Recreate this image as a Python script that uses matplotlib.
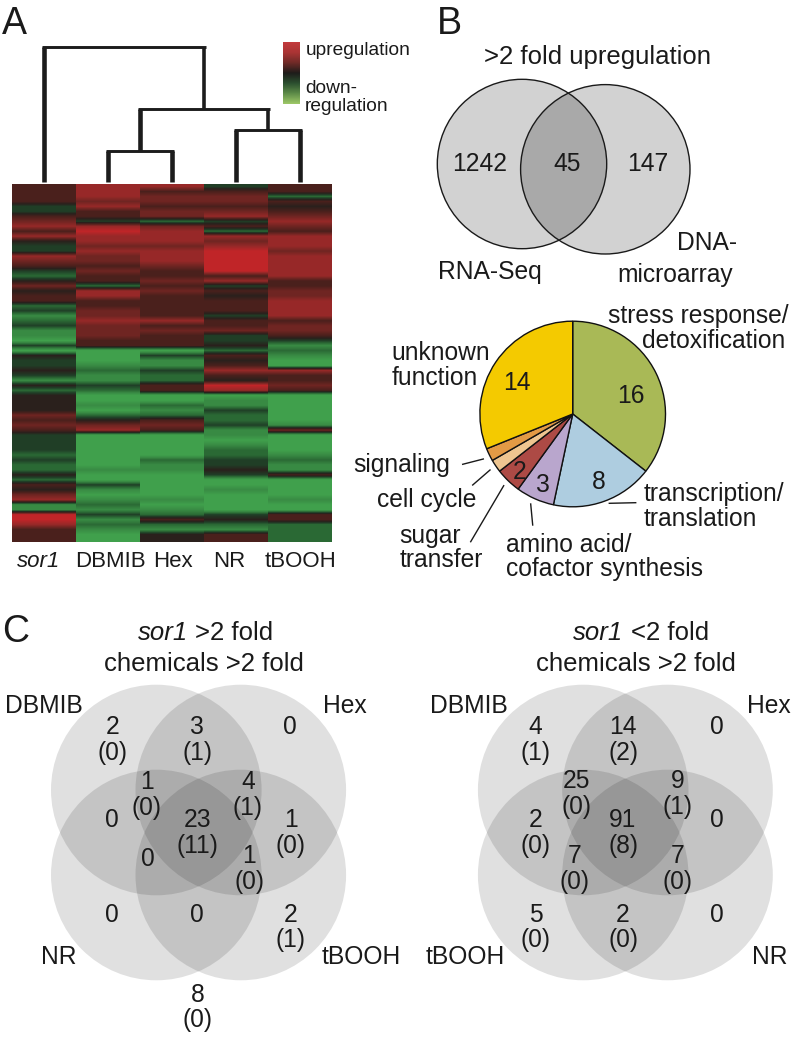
import matplotlib
matplotlib.use('Agg')
import matplotlib.pyplot as plt
from matplotlib.colors import LinearSegmentedColormap
from matplotlib.patches import Circle
import numpy as np

plt.rcParams['font.family'] = ['Liberation Sans', 'DejaVu Sans']

# Heatmap values, -4 bright green, 0 black, +4 bright red
sor1 = [1, 1, 1, 1, -1, -1, 1, 2, 3, 1, 3, 0, -1, -1, 3, 2, 1, -1, -2, 0, 2, 0, 1, 1,
        -2, -1, -3, -2, -1, -3, -3, -4, -1, -4, 0, -1, -1, 0, -1, -3, 0, -2, 0, 0, 0, 0, 2, 1,
        2, 1, -1, -1, -1, -1, -2, -1, -2, -2, 0, -2, 1, 0, 2, 3, -3, -3, 4, 4, 3, 1, 1, 1]
dbmib = [3, 3, 3, 2, 3, 1, 1, -1, 3, 4, 3, 3, 2, 3, 2, 2, 1, 2, 1, 1, -2, 3, 3, 1,
         1, 2, 2, 3, 2, 2, 2, 1, 1, -4, -4, -4, -3, -2, -3, -3, -1, -2, -4, -4, -3, -4, -2, 0,
         2, 3, -4, -4, -4, -4, -4, -4, -4, -3, -4, -4, -1, -3, -4, -3, -2, -3, -1, -3, -2, -3, -4, -4]
hexal = [3, 1, 2, 2, 1, 2, 2, -2, 2, 3, 3, 3, 2, 3, 3, 3, 2, 1, 1, 2, 1, 2, 1, 1,
         1, 1, 1, 3, 1, 2, 1, 1, 1, -4, -1, -3, -3, -1, -2, -2, 1, 1, -4, -4, -2, -3, -2, 1,
         2, 1, -4, -4, -4, -4, -4, -2, -3, -3, -4, -4, -4, -4, -4, -3, -4, -3, -2, 1, -2, -3, 0, 0]
nr = [-1, 1, 2, 2, 1, 2, 3, -1, 1, -2, 3, 2, 3, 4, 4, 4, 4, 4, 1, 3, -1, 1, 0, 1,
      1, 1, -1, 1, 1, 2, -1, -1, 0, -2, 1, 0, 1, 3, 1, 0, 4, 3, -4, -3, -3, -1, -2, -2,
      -1, -3, -3, -4, -3, -2, -2, -1, -1, 0, -1, -4, -4, -3, -4, -4, -4, -4, -1, 0, -2, -3, 1, 1]
tbooh = [1, 1, -2, 1, 0, 1, 2, 3, 2, 1, 3, 3, 3, 2, 3, 3, 3, 3, 3, 1, 1, 2, 2, 3,
         3, 3, 3, 1, 2, 2, 1, -1, -3, -2, -3, -4, -4, 3, 1, 1, 2, 1, -4, -4, -4, -4, -4, -4,
         -3, 2, -4, -4, -4, -4, -3, -2, -3, -3, 1, -4, -4, -4, -4, -3, -4, -4, 1, 1, -2, -2, -2, -2]
heat_columns = [sor1, dbmib, hexal, nr, tbooh]
heat_labels = ['DBMIB', 'Hex', 'NR', 'tBOOH']
heat_colors = ['#40a04c', '#398b44', '#2b6a35', '#203f27', '#2a201c',
               '#4a201c', '#6f2522', '#962928', '#c02528']
legend_colors = ['#c23a3c', '#a93434', '#6e2a27', '#1e1c1a', '#2b4f2f', '#5c8a47', '#9cc667']

# dendrogram merge heights above the heatmap
merge_heights = [31, 52, 73, 135]

# Venn B
venn_b_counts = ['1242', '45', '147']

# Pie
pie_values = [16, 8, 3, 2, 1, 1, 14]
pie_colors = ['#a9b956', '#aecde0', '#b9a6cd', '#ad4a45', '#eec590', '#e39a45', '#f4ca00']

# Venn C
c1_counts = ['2', '3', '0', '1', '4', '0', '23', '1', '0', '1', '0', '0', '2', '8']
c1_parens = ['(0)', '(1)', '', '(0)', '(1)', '', '(11)', '(0)', '', '(0)', '', '', '(1)', '(0)']
c2_counts = ['4', '14', '0', '25', '9', '2', '91', '0', '7', '7', '5', '2', '0']
c2_parens = ['(1)', '(2)', '', '(0)', '(1)', '(0)', '(8)', '', '(0)', '(0)', '(0)', '(0)', '']

W, H = 793, 1037
TC = '#1a1a1a'

fig = plt.figure(figsize=(W / 100, H / 100), dpi=100)
ax = fig.add_axes([0, 0, 1, 1])
ax.set_zorder(2)


def txt(x, y, s, size=17.7, ha='left', **kw):
    ax.text(x, y, s, fontsize=size, ha=ha, va='baseline', color=TC, **kw)


# A: heatmap, one image per column so the rows blend only up and down
heat_cmap = LinearSegmentedColormap.from_list('heat', heat_colors)
for i, col in enumerate(heat_columns):
    ax.imshow(np.array(col, dtype=float).reshape(-1, 1), cmap=heat_cmap, vmin=-4, vmax=4, aspect='auto',
              interpolation='bilinear', extent=(12 + 64 * i, 76 + 64 * i, 542, 184))
txt(17.3, 566.7, 'sor1', size=16, style='italic')
for lab, x in zip(heat_labels, [75, 153, 212.7, 265]):
    txt(x, 566.7, lab, size=16)

# dendrogram
base = 182
col_x = [44, 108, 172, 236, 300]
m1 = (col_x[1] + col_x[2]) / 2
m2 = (col_x[3] + col_x[4]) / 2
m3 = (m1 + m2) / 2
links = [(col_x[1], base, col_x[2], base, merge_heights[0]),
         (col_x[3], base, col_x[4], base, merge_heights[1]),
         (m1, base - merge_heights[0], m2, base - merge_heights[1], merge_heights[2]),
         (col_x[0], base, m3, base - merge_heights[2], merge_heights[3])]
for x0, y0, x1, y1, h in links:
    top = base - h
    ax.plot([x0, x0], [y0, top], color='#1c1c1c', lw=3.3, solid_capstyle='butt')
    ax.plot([x1, x1], [y1, top], color='#1c1c1c', lw=3.3 if y1 == base else 2.6, solid_capstyle='butt')
    ax.plot([x0 - 2, x1 + 2], [top, top], color='#1c1c1c', lw=2.1, solid_capstyle='butt')

# legend gradient
legend_cmap = LinearSegmentedColormap.from_list('leg', legend_colors)
ax.imshow(np.linspace(0, 1, 62).reshape(-1, 1), cmap=legend_cmap, aspect='auto',
          extent=(283.3, 300, 103.7, 41.7))
txt(306, 55, 'upregulation', size=13.8)
txt(305, 93.3, 'down-', size=13.8)
txt(305, 110.7, 'regulation', size=13.8)

# panel letters
txt(2, 34, 'A', size=27)
txt(437.3, 34, 'B', size=27)
txt(2, 641.7, 'C', size=27)

# B: two circle venn
ax.add_patch(Circle((522, 164), 84.7, fc='#d2d2d2', ec='none'))
ax.add_patch(Circle((605.3, 169.3), 84.7, fc='#d2d2d2', ec='none'))
lens = Circle((605.3, 169.3), 84.7, fc='#a9a9a9', ec='none')
ax.add_patch(lens)
lens.set_clip_path(Circle((522, 164), 84.7, transform=ax.transData))
ax.add_patch(Circle((522, 164), 84.7, fc='none', ec='#1a1a1a', lw=1.0))
ax.add_patch(Circle((605.3, 169.3), 84.7, fc='none', ec='#1a1a1a', lw=1.0))
txt(484, 64, '>2 fold upregulation', size=18.5)
for s, x in zip(venn_b_counts, [451.7, 553.3, 627.3]):
    txt(x, 170.7, s)
txt(438.3, 278.7, 'RNA-Seq')
txt(676.7, 250, 'DNA-')
txt(617.3, 281.7, 'microarray')

# B: pie
pcx, pcy, pr = 572.7, 414, 92.8
pax = fig.add_axes([(pcx - pr * 1.02) / W, 1 - (pcy + pr * 1.02) / H, pr * 2.04 / W, pr * 2.04 / H])
pax.set_zorder(1)
pax.pie(pie_values, colors=pie_colors, startangle=90, counterclock=False,
        wedgeprops={'edgecolor': '#111111', 'linewidth': 1.0})
pax.set_xlim(-1.02, 1.02)
pax.set_ylim(-1.02, 1.02)

txt(607.7, 323.3, 'stress response/')
txt(641.7, 348.3, 'detoxification')
txt(391.7, 360, 'unknown')
txt(391.7, 385, 'function')
txt(353.3, 471.7, 'signaling')
txt(377.3, 506.7, 'cell cycle')
txt(399.3, 543.3, 'sugar')
txt(399.3, 567.3, 'transfer')
txt(505.7, 551.7, 'amino acid/')
txt(505.7, 576, 'cofactor synthesis')
txt(644, 500.7, 'transcription/')
txt(644, 525.7, 'translation')
for x, y, v in [(616.7, 403.3, pie_values[0]), (592.3, 489.3, pie_values[1]), (535.7, 491.7, pie_values[2]),
                (512.7, 479, pie_values[3]), (503.3, 390, pie_values[6])]:
    txt(x, y, str(v))
for xs, ys in [((462.7, 483.3), (464.3, 459)), ((472.7, 490), (485, 470)), ((470.7, 503.7), (541.7, 485.7)),
               ((530.7, 532.7), (504, 525)), ((609.3, 635.7), (503.3, 502.7))]:
    ax.plot(xs, ys, color='#1a1a1a', lw=1.0)

# C: four circle venns
for xa, xb in [(156.3, 240.8), (583.2, 667.5)]:
    for cx in (xa, xb):
        for cy in (790, 875):
            ax.add_patch(Circle((cx, cy), 105.3, fc='black', ec='none', alpha=0.12))

c1_pos = [(112.3, 734.3), (197.3, 734.3), (290, 734.3), (146.7, 789.3), (248, 789.3), (112.3, 826.7),
          (197.3, 827.3), (290.7, 827.3), (148.3, 866), (249.3, 863.3), (112.3, 921.7), (197.3, 921.7),
          (290.3, 921.7), (197.3, 1001.7)]
c2_pos = [(535.7, 734.3), (623, 734.3), (716.7, 734.3), (576.3, 788.3), (677.3, 788.3), (535.7, 827.3),
          (623, 827.3), (716.7, 826.7), (574.3, 863.3), (677.3, 863.3), (535.7, 921.7), (623, 921.7),
          (716.7, 921.7)]
for counts, parens, pos in [(c1_counts, c1_parens, c1_pos), (c2_counts, c2_parens, c2_pos)]:
    for c, p, (x, y) in zip(counts, parens, pos):
        txt(x, y, c, ha='center')
        if p:
            txt(x, y + 25.5, p, ha='center')

txt(138.3, 640, 'sor1', size=18.5, style='italic')
txt(195, 640, '>2 fold', size=18.5)
txt(204, 670.7, 'chemicals >2 fold', size=18.5, ha='center')
txt(572.7, 640, 'sor1', size=18.5, style='italic')
txt(630.7, 640, '<2 fold', size=18.5)
txt(635.5, 670.7, 'chemicals >2 fold', size=18.5, ha='center')

txt(5, 712.7, 'DBMIB')
txt(322.7, 712.7, 'Hex')
txt(40.7, 964.3, 'NR')
txt(321.7, 964.3, 'tBOOH')
txt(430, 712.7, 'DBMIB')
txt(746.7, 712.7, 'Hex')
txt(426, 964.3, 'tBOOH')
txt(751.7, 964.3, 'NR')

ax.set_xlim(0, W)
ax.set_ylim(H, 0)
ax.axis('off')
fig.savefig('out.png', dpi=100)
